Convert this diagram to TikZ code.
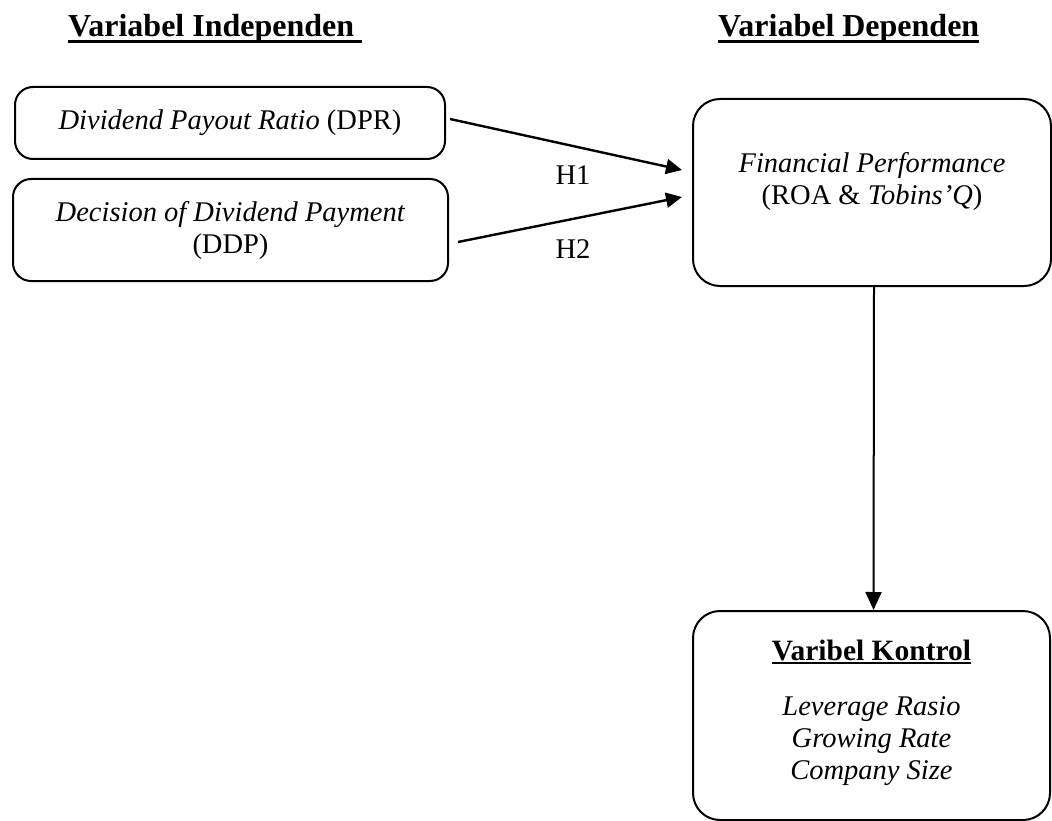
\documentclass[tikz,border=0pt]{standalone}
\usepackage{fontspec}
\setmainfont{Liberation Serif}
\usetikzlibrary{positioning,arrows.meta}
\newcommand{\ulhead}[3]{\setbox0\hbox{#1}\rlap{\usebox0}\raisebox{#2}{\rule{\wd0}{#3}}}
\tikzset{
  box/.style  ={draw, line width=2pt, rounded corners=18pt, align=center,
                inner sep=0pt, font=\fontsize{28.5}{32}\selectfont},
  bbox/.style ={box, rounded corners=27pt},
  txt/.style  ={align=center, inner sep=0pt, font=\fontsize{28.5}{32}\selectfont},
  head/.style ={anchor=base west, inner sep=0pt,
                font=\fontsize{32}{36}\selectfont\bfseries},
  ar/.style   ={-{Triangle[length=16pt,width=15pt]}, line width=2.4pt}
}
\begin{document}
\begin{tikzpicture}[x=1pt,y=-1pt]
\useasboundingbox (0,0) rectangle (1052,821);

\node[head] (hind) at (68,37) {\ulhead{Variabel Independen\ }{-6.5pt}{3pt}};
\node[head] (hdep) at (718,37) {\ulhead{Variabel Dependen}{-6.5pt}{3pt}};

\node[box, minimum width=430pt, minimum height=72pt] (dpr) at (230,123)
  {\textit{Dividend Payout Ratio} (DPR)};
\node[box, minimum width=435pt, minimum height=102pt] (ddp) at (230.5,230)
  {\textit{Decision of Dividend Payment}\\(DDP)};

\node[bbox, minimum width=358pt, minimum height=187pt] (fp) at (872,192.5) {};
\node[txt] (fptxt) at (872,181.5)
  {\textit{Financial Performance}\\(ROA \& \textit{Tobins'Q})};

% control variables sit under the dependent variable
\node[bbox, minimum width=357pt, minimum height=209pt] (ctrl) at (871.5,715.5) {};
\node[txt, anchor=base, font=\fontsize{29.5}{32}\selectfont\bfseries] (ctrlhd)
  at (871.5,660) {\ulhead{Varibel Kontrol}{-4.3pt}{2pt}};
\node[txt, font=\fontsize{28.5}{32}\selectfont\itshape] (ctrltxt) at (871.5,741)
  {Leverage Rasio\\Growing Rate\\Company Size};

\draw[ar] ([xshift=4pt,yshift=4pt]dpr.east) -- ([xshift=-10pt,yshift=22.5pt]fp.west);
\draw[ar] ([xshift=9pt,yshift=-12pt]ddp.east) -- ([xshift=-10pt,yshift=-4.5pt]fp.west);
\node[txt] (h1) at (573,175) {H1};
\node[txt] (h2) at (573,249) {H2};

\draw[line width=2pt, -{Triangle[length=18pt,width=16pt]}]
  ([xshift=2pt]fp.south) -- ([xshift=2pt]ctrl.north);
\end{tikzpicture}
\end{document}
